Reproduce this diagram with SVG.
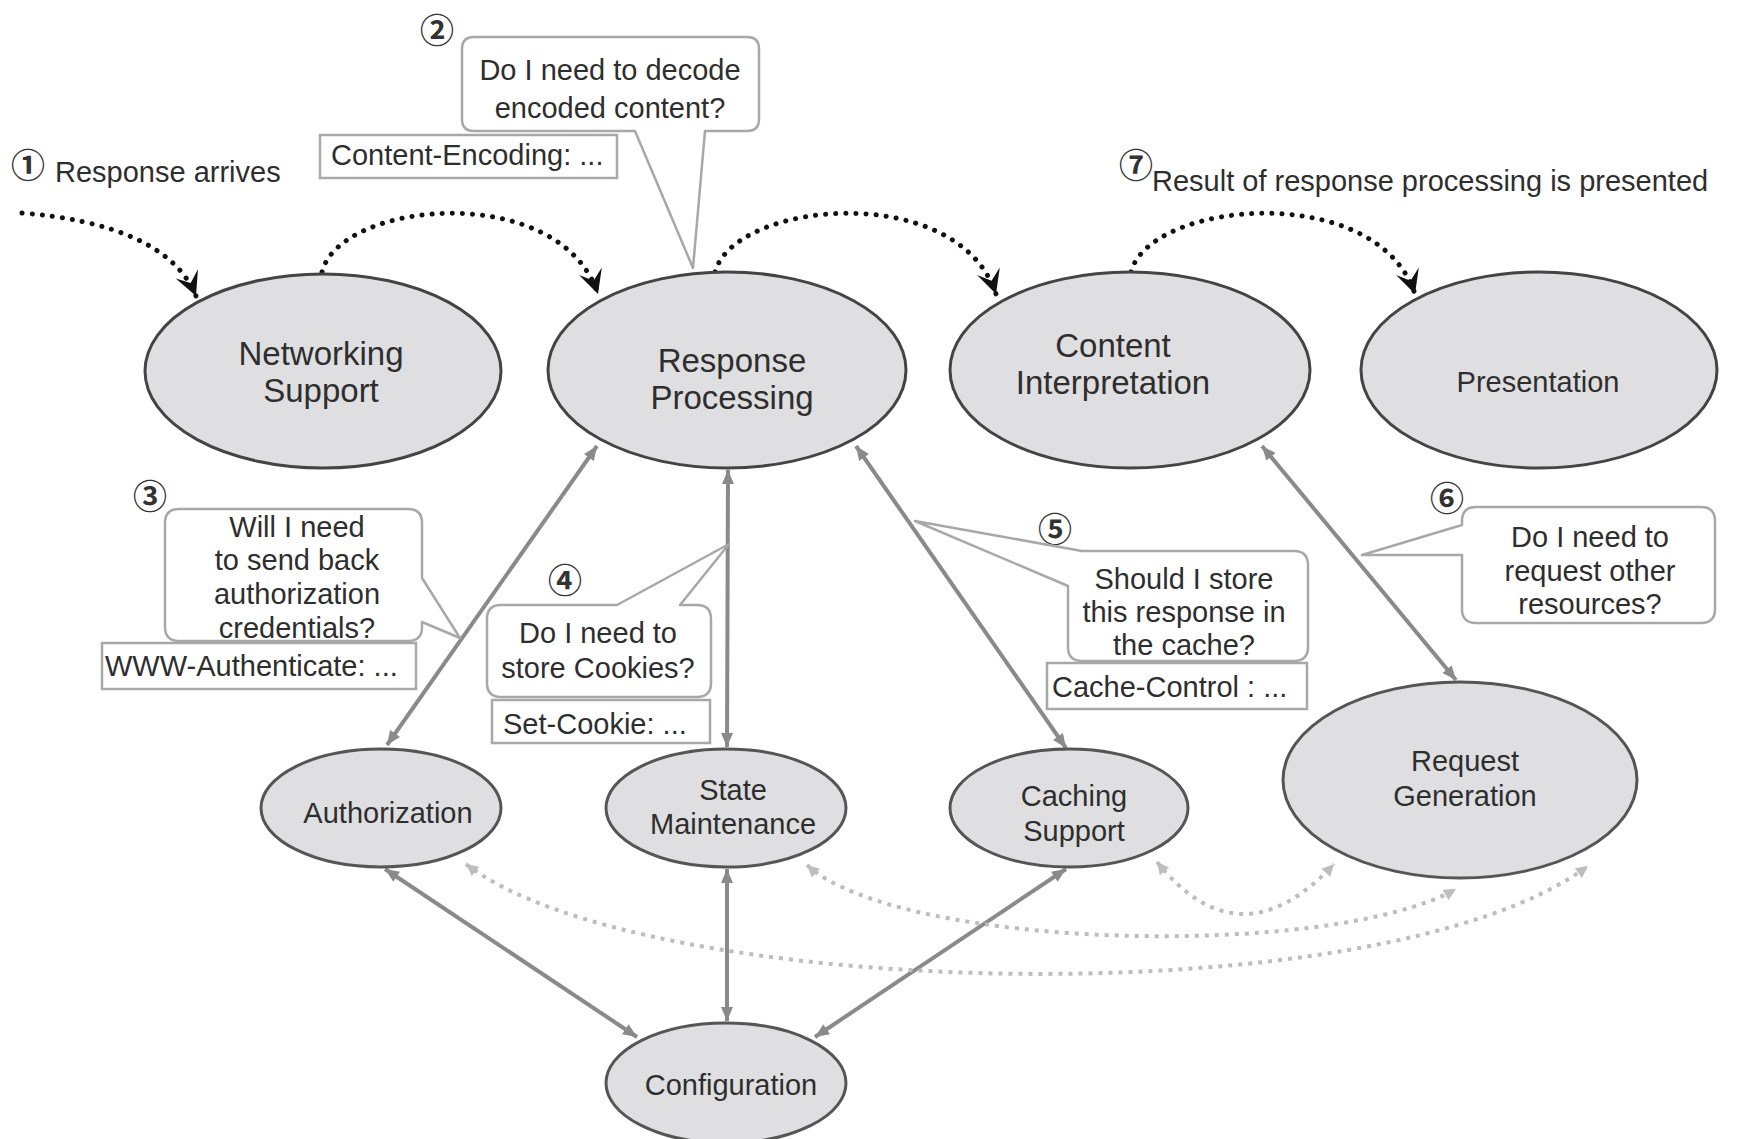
<svg xmlns="http://www.w3.org/2000/svg" width="1744" height="1139" viewBox="0 0 1744 1139">
<defs>
<style>
.ell{fill:#dfdfe1;stroke:#444;stroke-width:3}
.ell2{fill:#dfdfe1;stroke:#555;stroke-width:3}
.t{font-family:"Liberation Sans",Arial,sans-serif;fill:#2e2e2e;text-anchor:middle}
.tl{font-family:"Liberation Sans",Arial,sans-serif;fill:#2e2e2e}
.big{font-size:33px}
.med{font-size:29px}
.num{font-family:"Noto Sans CJK JP","DejaVu Sans",sans-serif;font-size:34px;font-weight:700;fill:#333;text-anchor:middle;dominant-baseline:central}
.callout{fill:#fff;stroke:#a8a8a8;stroke-width:2.5;stroke-linejoin:round}
.hdr{fill:#fff;stroke:#a8a8a8;stroke-width:2.5}
.conn{stroke:#8a8a8a;stroke-width:4;fill:none;marker-start:url(#ga);marker-end:url(#ga)}
.dots{stroke:#111;stroke-width:5;fill:none;stroke-dasharray:0.1 10;stroke-linecap:round;marker-end:url(#blk)}
.ldots{stroke:#bdbdbd;stroke-width:4;fill:none;stroke-dasharray:4 6;marker-start:url(#la);marker-end:url(#la)}
</style>
<marker id="blk" markerUnits="userSpaceOnUse" orient="auto" markerWidth="40" markerHeight="40" refX="0" refY="0" style="overflow:visible">
<path d="M0,0 L-24,-12 L-14,0 L-24,12 Z" fill="#111"/>
</marker>
<marker id="ga" markerUnits="userSpaceOnUse" orient="auto-start-reverse" markerWidth="30" markerHeight="30" refX="0" refY="0" style="overflow:visible">
<path d="M0,0 L-14,-6 L-14,6 Z" fill="#8a8a8a"/>
</marker>
<marker id="la" markerUnits="userSpaceOnUse" orient="auto-start-reverse" markerWidth="30" markerHeight="30" refX="0" refY="0" style="overflow:visible">
<path d="M0,0 L-12,-6 L-12,6 Z" fill="#bdbdbd"/>
</marker>
</defs>
<rect width="1744" height="1139" fill="#fff"/>

<g id="connectors">
<path class="dots" d="M22,213 C110,220 175,245 196,296"/>
<path class="dots" d="M322,272 C340,200 560,180 598,294"/>
<path class="dots" d="M715,272 C735,200 958,180 996,294"/>
<path class="dots" d="M1131,272 C1150,200 1377,180 1415,294"/>
<line class="conn" x1="387" y1="745" x2="597" y2="446"/>
<line class="conn" x1="727" y1="747" x2="728" y2="470"/>
<line class="conn" x1="1066" y1="748" x2="856" y2="446"/>
<line class="conn" x1="1456" y1="680" x2="1262" y2="446"/>
<line class="conn" x1="385" y1="869" x2="637" y2="1037"/>
<line class="conn" x1="727" y1="869" x2="727" y2="1021"/>
<line class="conn" x1="1066" y1="869" x2="815" y2="1037"/>
<path class="ldots" d="M466,864 C640,1000 1380,1020 1588,866"/>
<path class="ldots" d="M807,865 C900,950 1330,960 1456,889"/>
<path class="ldots" d="M1157,862 Q1240,965 1334,864"/>
</g>

<g id="node-networking-support">
<ellipse class="ell" cx="323" cy="371" rx="178" ry="97"/>
<text class="t big" x="321" y="365">Networking</text>
<text class="t big" x="321" y="402">Support</text>
</g>
<g id="node-response-processing">
<ellipse class="ell" cx="727" cy="370" rx="179" ry="98"/>
<text class="t big" x="732" y="372">Response</text>
<text class="t big" x="732" y="409">Processing</text>
</g>
<g id="node-content-interpretation">
<ellipse class="ell" cx="1130" cy="370" rx="180" ry="98"/>
<text class="t big" x="1113" y="357">Content</text>
<text class="t big" x="1113" y="394">Interpretation</text>
</g>
<g id="node-presentation">
<ellipse class="ell" cx="1539" cy="370" rx="178" ry="98"/>
<text class="t med" x="1538" y="392">Presentation</text>
</g>
<g id="node-authorization">
<ellipse class="ell2" cx="381" cy="808" rx="120" ry="59"/>
<text class="t med" x="388" y="823">Authorization</text>
</g>
<g id="node-state-maintenance">
<ellipse class="ell2" cx="726" cy="808" rx="120" ry="59"/>
<text class="t med" x="733" y="800">State</text>
<text class="t med" x="733" y="834">Maintenance</text>
</g>
<g id="node-caching-support">
<ellipse class="ell2" cx="1069" cy="808" rx="119" ry="59"/>
<text class="t med" x="1074" y="806">Caching</text>
<text class="t med" x="1074" y="841">Support</text>
</g>
<g id="node-request-generation">
<ellipse class="ell2" cx="1460" cy="780" rx="177" ry="98"/>
<text class="t med" x="1465" y="771">Request</text>
<text class="t med" x="1465" y="806">Generation</text>
</g>
<g id="node-configuration">
<ellipse class="ell2" cx="726" cy="1083" rx="120" ry="60"/>
<text class="t med" x="731" y="1095">Configuration</text>
</g>

<g id="label-1">
<text class="num" x="28" y="163">①</text>
<text class="tl med" x="55" y="182">Response arrives</text>
</g>
<g id="label-7">
<text class="num" x="1136" y="163">⑦</text>
<text class="tl med" x="1152" y="191">Result of response processing is presented</text>
</g>

<g id="callout-2">
<text class="num" x="437" y="28">②</text>
<path class="callout" d="M474,37 H747 Q759,37 759,49 V119 Q759,131 747,131 H705 L693,268 L635,131 H474 Q462,131 462,119 V49 Q462,37 474,37 Z"/>
<text class="t med" x="610" y="80">Do I need to decode</text>
<text class="t med" x="610" y="118">encoded content?</text>
<rect class="hdr" x="320" y="135" width="297" height="43"/>
<text class="tl med" x="331" y="165">Content-Encoding: ...</text>
</g>

<g id="callout-3">
<text class="num" x="150" y="494">③</text>
<path class="callout" d="M179,509 H408 Q422,509 422,523 V578 L460,638 L422,622 V627 Q422,641 408,641 H179 Q165,641 165,627 V523 Q165,509 179,509 Z"/>
<text class="t med" x="297" y="537">Will I need</text>
<text class="t med" x="297" y="570">to send back</text>
<text class="t med" x="297" y="604">authorization</text>
<text class="t med" x="297" y="638">credentials?</text>
<rect class="hdr" x="102" y="643" width="314" height="46"/>
<text class="tl med" x="105" y="676">WWW-Authenticate: ...</text>
</g>

<g id="callout-4">
<text class="num" x="565" y="578">④</text>
<path class="callout" d="M501,605 H617 L729,544 L680,605 H697 Q711,605 711,619 V683 Q711,697 697,697 H501 Q487,697 487,683 V619 Q487,605 501,605 Z"/>
<text class="t med" x="598" y="643">Do I need to</text>
<text class="t med" x="598" y="678">store Cookies?</text>
<rect class="hdr" x="492" y="700" width="218" height="43"/>
<text class="tl med" x="503" y="734">Set-Cookie: ...</text>
</g>

<g id="callout-5">
<text class="num" x="1055" y="527">⑤</text>
<path class="callout" d="M1082,551 H1294 Q1308,551 1308,565 V647 Q1308,661 1294,661 H1082 Q1068,661 1068,647 V586 L915,521 Z"/>
<text class="t med" x="1184" y="589">Should I store</text>
<text class="t med" x="1184" y="622">this response in</text>
<text class="t med" x="1184" y="655">the cache?</text>
<rect class="hdr" x="1047" y="663" width="260" height="46"/>
<text class="tl med" x="1052" y="697">Cache-Control : ...</text>
</g>

<g id="callout-6">
<text class="num" x="1447" y="496">⑥</text>
<path class="callout" d="M1476,507 H1701 Q1715,507 1715,521 V609 Q1715,623 1701,623 H1476 Q1462,623 1462,609 V555 L1362,555 L1462,525 V521 Q1462,507 1476,507 Z"/>
<text class="t med" x="1590" y="547">Do I need to</text>
<text class="t med" x="1590" y="581">request other</text>
<text class="t med" x="1590" y="614">resources?</text>
</g>
</svg>
